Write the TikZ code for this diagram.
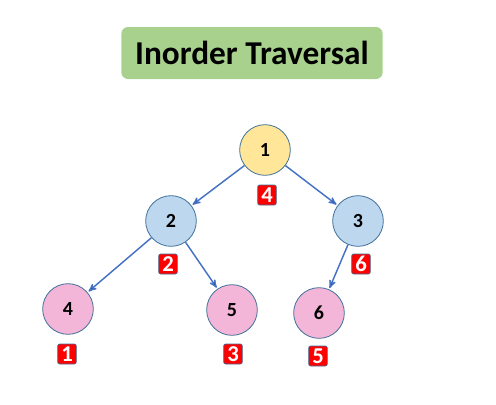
\documentclass[tikz,border=0pt]{standalone}
\usepackage{fontspec}
\setmainfont{Carlito}
\usetikzlibrary{arrows,positioning}
\definecolor{titleColor}{HTML}{A9D18E}
\definecolor{rootColor}{HTML}{FFE699}
\definecolor{midColor}{HTML}{BDD7EE}
\definecolor{leafColor}{HTML}{F4B6D8}
\definecolor{lineColor}{HTML}{4472C4}
\definecolor{rimColor}{HTML}{41719C}
\definecolor{badgeColor}{HTML}{FF0000}
\tikzset{
	tnode/.style={circle, draw=rimColor, line width=0.6pt, minimum size=38pt, inner sep=0, font=\bfseries\fontsize{15}{17}\selectfont},
	badge/.style={rectangle, rounded corners=1.5pt, fill=badgeColor, draw=rimColor, line width=0.5pt, text=white, minimum width=14pt, minimum height=15pt, inner sep=0, font=\bfseries\fontsize{17}{19}\selectfont}
}

\begin{document}
\begin{tikzpicture}[x=0.75pt,y=-0.75pt,->,>=stealth',shorten >=1pt, line width=1.1pt]
	\useasboundingbox (0,0) rectangle (496,404);
	\node[fill=titleColor, rounded corners=5pt, minimum width=196pt, minimum height=39pt, font=\bfseries\fontsize{25}{28}\selectfont] (title) at (252,53) {Inorder Traversal};
	\node[tnode, fill=rootColor] (n1) at (265,150) {1};
	\node[tnode, fill=midColor] (n2) at (171,221) {2};
	\node[tnode, fill=midColor] (n3) at (358,221) {3};
	\node[tnode, fill=leafColor] (n4) at (68,309) {4};
	\node[tnode, fill=leafColor] (n5) at (232,310) {5};
	\node[tnode, fill=leafColor] (n6) at (319,313) {6};
	\node[badge] (b1) at (267,195) {4};
	\node[badge] (b2) at (168,264) {2};
	\node[badge] (b3) at (361,264) {6};
	\node[badge] (b4) at (67,354) {1};
	\node[badge] (b5) at (233,354) {3};
	\node[badge] (b6) at (318,356) {5};
	\path[draw=lineColor] (n1) edge (n2);
	\path[draw=lineColor] (n1) edge (n3);
	\path[draw=lineColor] (n2) edge (n4);
	\path[draw=lineColor] (n2) edge (n5);
	\path[draw=lineColor] (n3) edge (n6);
\end{tikzpicture}
\end{document}
